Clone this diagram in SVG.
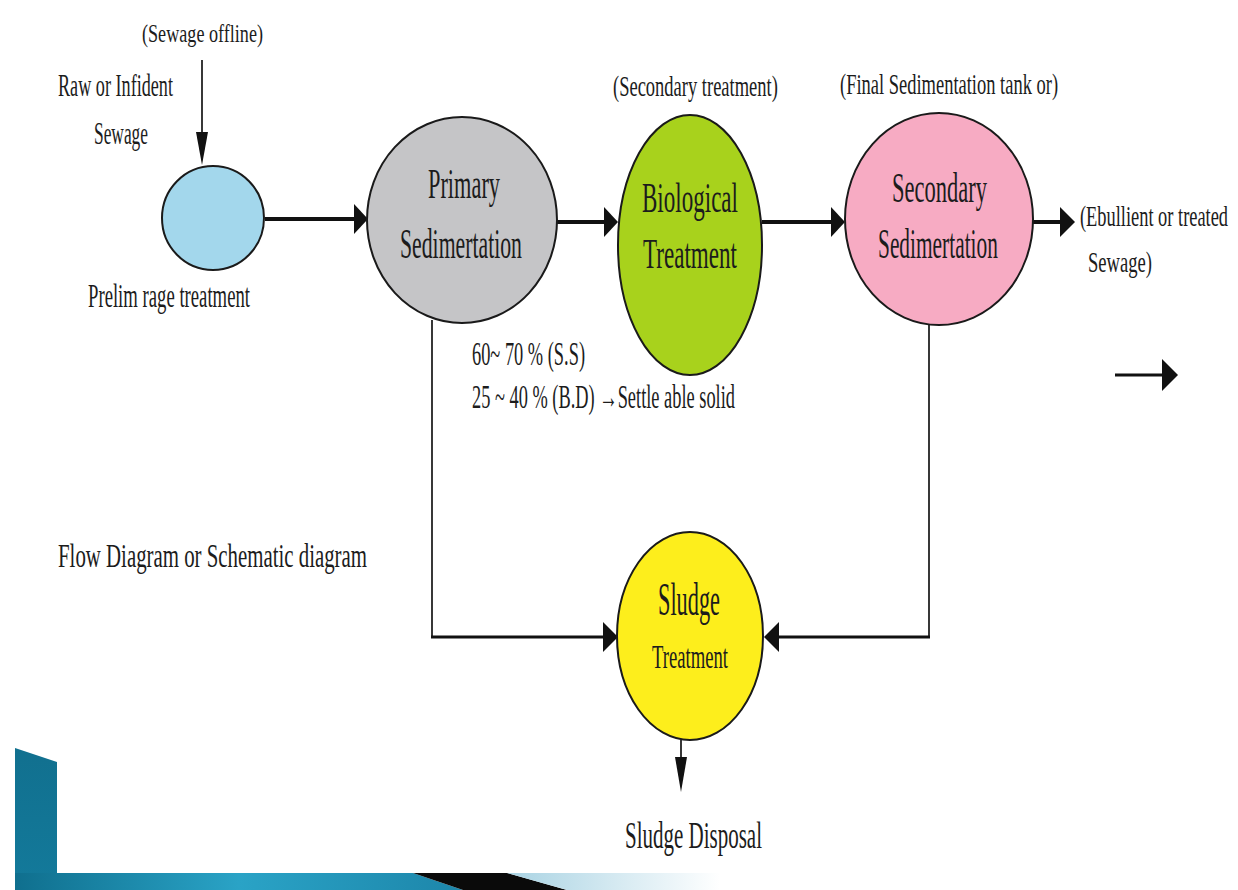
<svg xmlns="http://www.w3.org/2000/svg" width="1238" height="890" viewBox="0 0 1238 890">
<style>
.t{font-family:"Liberation Serif","Times New Roman",serif;fill:#1c1c1c}
.node{stroke:#1a1a1a;stroke-width:2}
.thick{stroke:#111;stroke-width:4;fill:none}
.mid{stroke:#111;stroke-width:3;fill:none}
.thin{stroke:#222;stroke-width:1.8;fill:none}
.head{fill:#111}
</style>
<defs>
<linearGradient id="band" x1="0" y1="0" x2="1" y2="0">
<stop offset="0" stop-color="#0f6f8e"/>
<stop offset="0.5" stop-color="#2aa3c6"/>
<stop offset="1" stop-color="#1d86aa"/>
</linearGradient>
<linearGradient id="fade" x1="0" y1="0" x2="1" y2="0">
<stop offset="0" stop-color="#a9d3e3"/>
<stop offset="1" stop-color="#ffffff"/>
</linearGradient>
<linearGradient id="bar" x1="0" y1="0" x2="0" y2="1">
<stop offset="0" stop-color="#11708f"/>
<stop offset="1" stop-color="#137a9b"/>
</linearGradient>
</defs>
<rect width="1238" height="890" fill="#ffffff"/>

<g id="decoration">
<polygon points="15,748 57,762 57,890 15,890" fill="url(#bar)"/>
<polygon points="15,873 413,873 463,890 15,890" fill="url(#band)"/>
<polygon points="413,873 507,873 567,890 463,890" fill="#0a0a0a"/>
<polygon points="507,873 720,873 720,890 567,890" fill="url(#fade)"/>
</g>

<g id="connectors">
<line class="thin" x1="202" y1="60" x2="202" y2="135"/>
<polygon class="head" points="196,132 208,132 202,165"/>
<line class="thick" x1="265" y1="219" x2="356" y2="219"/>
<polygon class="head" points="354,204 368,219 354,234"/>
<line class="thick" x1="557" y1="222" x2="606" y2="222"/>
<polygon class="head" points="604,207 618,222 604,237"/>
<line class="thick" x1="762" y1="222" x2="833" y2="222"/>
<polygon class="head" points="831,207 845,222 831,237"/>
<line class="thick" x1="1033" y1="222" x2="1062" y2="222"/>
<polygon class="head" points="1060,207 1075,222 1060,237"/>
<line class="mid" x1="1115" y1="375" x2="1164" y2="375"/>
<polygon class="head" points="1162,359 1178,375 1162,391"/>
<polyline class="thin" points="432,320 432,637"/>
<line class="mid" x1="431" y1="637" x2="604" y2="637"/>
<polygon class="head" points="603,622 618,637 603,652"/>
<polyline class="thin" points="929,324 929,637"/>
<line class="mid" x1="930" y1="637" x2="778" y2="637"/>
<polygon class="head" points="779,622 764,637 779,652"/>
<line class="thin" x1="681" y1="740" x2="681" y2="760"/>
<polygon class="head" points="675,757 687,757 681,792"/>
</g>

<g id="prelim">
<ellipse class="node" cx="213" cy="218" rx="51" ry="52" fill="#a3d7ec"/>
<text class="t" x="88" y="307" font-size="34" textLength="162" lengthAdjust="spacingAndGlyphs">Prelim rage treatment</text>
</g>

<g id="inflow-labels">
<text class="t" x="142" y="42" font-size="26" textLength="121" lengthAdjust="spacingAndGlyphs">(Sewage offline)</text>
<text class="t" x="58" y="96" font-size="32" textLength="115" lengthAdjust="spacingAndGlyphs">Raw or Infident</text>
<text class="t" x="94" y="144" font-size="32" textLength="54" lengthAdjust="spacingAndGlyphs">Sewage</text>
</g>

<g id="primary">
<ellipse class="node" cx="462" cy="220" rx="95" ry="103" fill="#c5c5c7"/>
<text class="t" x="428" y="198" font-size="42" textLength="72" lengthAdjust="spacingAndGlyphs">Primary</text>
<text class="t" x="400" y="258" font-size="42" textLength="122" lengthAdjust="spacingAndGlyphs">Sedimertation</text>
</g>

<g id="biological">
<ellipse class="node" cx="690" cy="245" rx="72" ry="130" fill="#a8d21c"/>
<text class="t" x="642" y="212" font-size="42" textLength="96" lengthAdjust="spacingAndGlyphs">Biological</text>
<text class="t" x="643" y="268" font-size="42" textLength="94" lengthAdjust="spacingAndGlyphs">Treatment</text>
<text class="t" font-size="29" transform="translate(613,96) scale(0.638,1)">(Secondary treatment)</text>
</g>

<g id="secondary">
<ellipse class="node" cx="939" cy="219" rx="94" ry="106" fill="#f7abc3"/>
<text class="t" x="892" y="202" font-size="42" textLength="95" lengthAdjust="spacingAndGlyphs">Secondary</text>
<text class="t" font-size="42" transform="translate(878,258) scale(0.509,1)">Sedimertation</text>
<text class="t" font-size="30" transform="translate(840,94) scale(0.616,1)">(Final Sedimentation tank or)</text>
</g>

<g id="effluent">
<text class="t" font-size="30" transform="translate(1080,226) scale(0.613,1)">(Ebullient or treated</text>
<text class="t" font-size="30" transform="translate(1088,272) scale(0.62,1)">Sewage)</text>
</g>

<g id="removal-notes">
<text class="t" x="472" y="365" font-size="34" textLength="113" lengthAdjust="spacingAndGlyphs">60~ 70 % (S.S)</text>
<text class="t" x="472" y="408" font-size="34" textLength="263" lengthAdjust="spacingAndGlyphs">25 ~ 40 % (B.D) →Settle able solid</text>
</g>

<g id="title">
<text class="t" x="58" y="567" font-size="34" textLength="309" lengthAdjust="spacingAndGlyphs">Flow Diagram or Schematic diagram</text>
</g>

<g id="sludge">
<ellipse class="node" cx="690" cy="636" rx="73" ry="104" fill="#fdee1c"/>
<text class="t" x="658" y="615" font-size="46" textLength="62" lengthAdjust="spacingAndGlyphs">Sludge</text>
<text class="t" x="652" y="668" font-size="34" textLength="76" lengthAdjust="spacingAndGlyphs">Treatment</text>
</g>

<g id="disposal">
<text class="t" x="625" y="848" font-size="38" textLength="137" lengthAdjust="spacingAndGlyphs">Sludge Disposal</text>
</g>
</svg>
